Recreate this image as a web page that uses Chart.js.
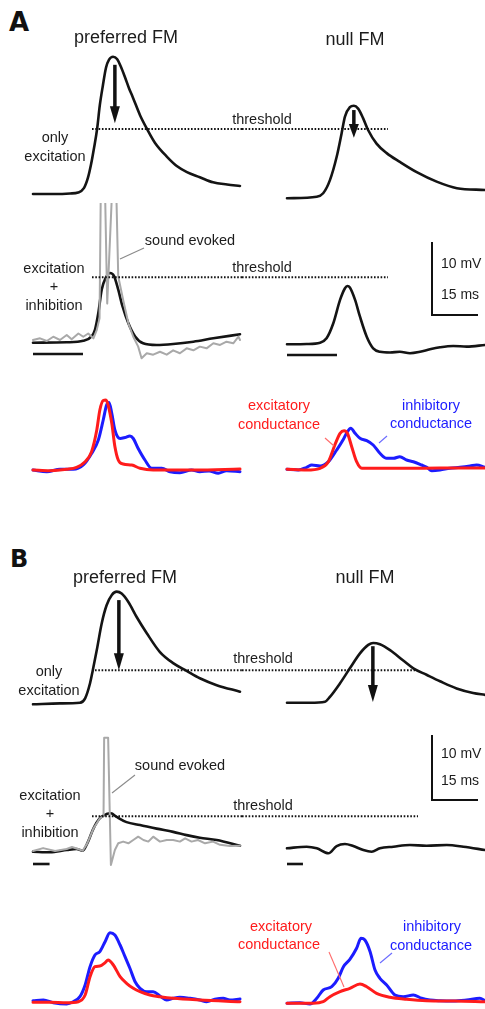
<!DOCTYPE html>
<html><head><meta charset="utf-8">
<script src="https://cdn.jsdelivr.net/npm/chart.js@4.4.1/dist/chart.umd.min.js"></script>
<style>
html,body{margin:0;padding:0;background:#fff}
body{width:485px;height:1009px;position:relative;overflow:hidden;font-family:Arial,"Liberation Sans",Helvetica,sans-serif;color:#1c1c1c}
canvas{position:absolute}
.t{position:absolute;white-space:nowrap;line-height:1}
svg{position:absolute;left:0;top:0}
</style></head><body>
<script>
// ===================== DATA =====================
// time in ms from trace onset, membrane potential in mV (re. rest), conductance in nS
// Panel A – only excitation
const A_exc_pref_t = [0,7.2,12.1,14.7,16.6,17.9,18.9,19.9,20.9,21.8,22.8,23.8,24.8,26.1,27.4,28.7,30.0,31.3,32.6,34.9,37.2,39.8,43.7,47.0,50.2,54.4,58.7,63.3,67.5];
const A_exc_pref_v = [0,0,0.07,0.2,0.8,2.2,4.0,6.3,8.9,12.2,14.9,17.3,18.4,18.8,18.5,17.4,16.0,14.5,13.2,10.8,8.9,7.0,5.1,3.8,3.0,2.3,1.6,1.3,1.1];
const A_exc_null_t = [0,9.7,11.8,14.0,16.2,17.8,18.9,20.5,21.8,23.2,24.8,26.4,29.2,32.5,36.8,42.3,48.8,55.4,64.6];
const A_exc_null_v = [-0.59,-0.37,0.1,1.9,5.1,8.3,10.6,11.9,12.1,11.7,10.4,8.8,6.9,5.6,4.4,3.0,1.7,0.8,0.55];
// Panel A – excitation + inhibition
const A_ei_pref_t = [0,11.0,16.4,19.1,20.2,21.3,22.4,23.8,25.1,26.4,27.8,29.2,31.1,33.3,35.9,40.3,45.7,52.3,58.8,67.5];
const A_ei_pref_v = [0.04,0.1,0.3,0.9,1.8,4.1,7.3,9.0,9.6,9.2,7.3,5.0,2.7,0.9,-0.04,-0.27,-0.14,0.18,0.64,1.19];
const A_sound_t = [0,2.3,4.5,6.6,8.8,11.0,12.6,14.8,16.4,18.0,19.7,20.8,21.7,22.2,22.4,23.1,23.3,24.2,25.7,25.9,27.0,27.2,27.8,29.4,31.1,32.7,34.3,35.4,37.1,39.2,41.4,43.6,45.7,47.9,50.1,52.3,54.4,56.6,58.8,61.0,63.1,65.3,67.0,67.5];
const A_sound_v = [0.41,0.64,0.27,0.86,0.41,1.1,0.5,1.3,0.86,1.3,0.64,1.8,3.4,25,40,40,25,5.4,20,40,40,20,9.1,5.9,2.7,0.86,-0.5,-2.1,-1.4,-1.6,-1.2,-1.6,-1.0,-1.4,-0.73,-1.0,-0.5,-0.73,-0.04,-0.27,0.18,-0.04,0.86,0.41];
const A_ei_null_t = [0,6.4,10.8,12.9,15.1,17.3,18.9,19.7,20.5,22.2,23.8,26.0,28.1,30.3,33.6,36.8,40.1,43.4,46.6,49.9,54.2,58.6,64.6];
const A_ei_null_v = [-0.18,-0.14,0.04,0.64,2.7,5.9,7.5,7.8,7.6,5.9,3.6,0.86,-0.73,-1.2,-1.3,-1.2,-1.4,-1.2,-0.86,-0.59,-0.41,-0.5,-0.27];
// Panel A – conductances
const A_ge_pref_t = [0,5.5,11.0,14.2,17.0,19.1,20.8,21.8,22.9,23.8,24.5,25.7,26.7,27.8,29.4,32.2,34.9,39.2,52.8,67.5];
const A_ge_pref   = [0,-0.14,0.14,0.54,1.66,3.66,8.0,12.0,13.9,14.0,13.0,9.3,4.7,2.0,1.2,1.0,0.34,0,0,0.2];
const A_gi_pref_t = [0,4.5,8.8,13.1,16.4,19.1,21.3,22.9,24.0,24.8,25.7,26.7,28.4,30.0,31.6,32.7,34.3,36.5,38.7,42.0,44.7,47.9,51.7,54.4,57.4,60.4,63.1,67.5];
const A_gi_pref   = [0,-0.34,0.14,0.14,1.0,3.3,6.0,10.0,13.0,13.5,11.3,8.0,6.3,6.5,6.8,6.3,4.3,2.0,0.34,0.34,-0.34,-0.54,0,-0.34,-0.2,-0.66,-0.14,-0.34];
const A_ge_null_t = [0,6.4,10.8,13.5,15.6,17.3,18.6,19.7,21.1,22.7,24.4,28.1,39.0,49.9,64.6];
const A_ge_null   = [0.14,0,0.34,1.66,5.0,7.34,7.86,7.34,4.66,1.66,0.34,0.34,0.34,0.4,0.4];
const A_gi_null_t = [0,3.7,6.4,8.1,10.8,13.5,16.2,18.4,19.5,20.8,22.2,23.8,26.0,28.1,30.3,32.5,34.7,36.8,39.0,41.2,43.9,45.6,47.2,49.9,53.1,56.4,59.7,61.8,64.6];
const A_gi_null   = [0.14,0,0.54,1.0,0.8,1.66,4.0,6.14,7.46,8.34,7.34,6.34,5.86,5.0,3.34,2.34,2.34,2.66,2.0,1.66,1.0,0.54,-0.14,0,0.34,0.54,0.8,1.0,0.54];
// Panel B – only excitation
const B_exc_pref_t = [0,8.8,15.3,17.0,18.6,19.5,20.8,22.4,24.0,25.7,27.3,28.9,31.1,33.8,37.1,41.4,45.7,50.1,54.4,59.9,67.5];
const B_exc_pref_v = [-0.05,0.1,0.2,0.88,3.2,5.2,8.3,12.4,15.2,16.8,17.3,17.0,15.7,13.4,10.9,8.0,6.3,5.1,3.96,2.9,1.9];
const B_exc_null_t = [0,7.5,12.4,14.0,17.3,20.5,23.8,26.5,28.1,30.3,33.6,37.9,41.2,45.5,49.9,55.3,60.7,64.6];
const B_exc_null_v = [0.2,0.2,0.35,1.1,3.2,5.5,7.8,9.1,9.4,9.2,8.3,6.7,5.5,4.5,3.5,2.4,1.7,1.4];
// Panel B – excitation + inhibition
const B_ei_pref_t = [0,5.5,11.0,14.2,16.2,17.7,19.7,21.8,24.0,25.4,27.3,30.5,34.9,40.3,45.7,50.1,54.4,59.9,67.5];
const B_ei_pref_v = [0.05,-0.05,0.3,0.46,0.2,1.33,3.6,5.2,5.85,5.96,5.4,4.6,4.16,3.6,3.1,2.6,2.2,1.85,0.97];
const B_sound_t = [0,3.3,7.2,11.0,12.7,14.7,16.2,17.7,19.7,21.8,23.0,23.2,24.5,25.4,26.7,27.8,29.4,31.1,32.7,34.3,36.0,37.6,39.2,41.4,43.6,45.7,47.9,49.6,51.7,53.8,56.1,58.7,61.0,64.2,67.5];
const B_sound_v = [0.15,0.6,0.15,0.46,0.77,0.46,0.2,1.33,3.6,5.2,5.5,17.6,17.6,-2.0,0.3,1.34,1.6,1.34,1.85,2.36,1.85,1.6,2.36,1.6,1.85,1.85,1.6,2.1,1.6,1.85,1.34,1.6,1.1,0.92,0.97];
const B_ei_null_t = [0,6.4,9.7,13.5,16.2,18.9,21.6,24.9,27.6,30.3,34.7,40.1,45.5,52.1,57.5,64.6];
const B_ei_null_v = [0.57,0.82,0.57,-0.2,0.92,1.23,0.92,0.3,0.05,0.57,0.82,1.08,0.97,1.08,0.82,0.3];
// Panel B – conductances
const B_ge_pref_t = [0,5.5,11.0,14.8,17.0,18.6,20.2,21.8,23.5,24.5,26.2,28.4,30.5,32.7,34.9,38.1,41.4,45.7,54.4,67.5];
const B_ge_pref   = [-0.06,-0.06,-0.14,0.06,1.4,5.06,7.06,7.2,7.86,8.4,7.4,5.06,3.74,2.74,2.06,1.4,1.06,0.74,0.4,0.06];
const B_gi_pref_t = [0,3.4,6.6,11.0,13.1,15.3,17.0,18.6,20.2,21.8,23.5,25.1,26.7,28.4,30.0,31.6,33.3,34.9,37.1,39.2,41.4,43.6,45.7,47.9,51.2,54.4,56.6,59.3,62.0,64.2,67.5];
const B_gi_pref   = [0.26,0.4,-0.14,-0.4,0.06,1.06,3.4,7.06,9.4,10.06,12.06,13.86,13.4,11.4,9.06,6.74,4.06,2.74,2.06,2.06,1.2,0.4,0.74,0.94,0.74,0.4,0.06,0.54,0.74,0.4,0.6];
const B_ge_null_t = [0,8.6,11.8,14.0,17.3,20.5,23.8,26.0,29.2,33.6,39.0,45.5,54.8,64.6];
const B_ge_null   = [-0.26,-0.26,0.06,1.06,2.06,2.74,3.6,3.06,1.74,0.94,0.54,0.26,0.2,0.06];
const B_gi_null_t = [0,4.2,7.5,9.7,11.8,14.6,16.7,18.4,20.5,22.7,24.1,25.4,27.1,28.7,30.3,32.5,35.2,37.9,41.2,43.9,46.6,49.9,54.2,58.6,62.9,64.6];
const B_gi_null   = [-0.26,-0.14,-0.4,0.74,2.4,3.06,4.74,7.06,8.54,10.74,12.74,12.4,10.06,6.4,4.74,3.4,1.4,1.06,1.4,0.74,0.4,0.26,0.2,0.4,0.74,0.26];
// thresholds (mV) per row, arrows [t, from mV, to mV], stimulus durations (ms), scale bar
const thresholds = [8.9, 9.0, 5.2, 5.5];           // A1, A2, B1, B2
const A_arrow_pref = [26.7, 17.7, 9.7];
const A_arrow_null = [21.8, 11.5, 7.7];
const B_arrow_pref = [28.0, 16.0, 5.2];
const B_arrow_null = [28.0, 8.9, 0.3];
const stimDur = [16.3, 16.3, 5.4, 5.2];           // A pref, A null, B pref, B null
const scaleBar_mV = 10, scaleBar_ms = 15;

// ===================== LAYOUT =====================
const MS_PER_PX = 15/46;
const colL = {x0:0, x1:242, origin:33};
const colR = {x0:242, x1:485, origin:287};
const rowA1 = {top:45,  bottom:203, base:194, k:0.137};
const rowA2 = {top:203, bottom:365, base:343, k:0.137};
const rowA3 = {top:380, bottom:485, base:470, k:0.2};
const rowB1 = {top:585, bottom:712, base:704, k:0.154};
const rowB2 = {top:712, bottom:875, base:852, k:0.154};
const rowB3 = {top:900, bottom:1009, base:1002, k:0.2};
const BLACK='#141414', GRAY='#a9a9a9', RED='rgb(255,28,28)', BLUE='rgb(28,28,255)';

const pts = (t,v)=>t.map((x,i)=>({x, y:v[i]}));
const xOf = (col,px)=>(px-col.origin)*MS_PER_PX;
const yOf = (row,py)=>(row.base-py)*row.k;
function trace(t,v,color,w,smooth=true){
  return {data:pts(t,v), borderColor:color, borderWidth:w, pointRadius:0, fill:false,
          tension: smooth?0.4:0, cubicInterpolationMode: smooth?'monotone':'default', borderJoinStyle:'round', borderCapStyle:'round'};
}
function seg(x1,y1,x2,y2,color,w,dash){
  return {data:[{x:x1,y:y1},{x:x2,y:y2}], borderColor:color, borderWidth:w, pointRadius:0, fill:false, tension:0,
          borderDash: dash||[], borderCapStyle:'butt'};
}
function thresholdLine(col,row,th,pxFrom,pxTo){
  return seg(xOf(col,pxFrom), th, xOf(col,pxTo), th, '#111', 2, [1.6,1.7]);
}
function makeChart(col,row,datasets,arrows){
  const c=document.createElement('canvas');
  const w=col.x1-col.x0, h=row.bottom-row.top;
  c.width=w; c.height=h; c.style.left=col.x0+'px'; c.style.top=row.top+'px';
  c.style.width=w+'px'; c.style.height=h+'px';
  document.body.appendChild(c);
  const arrowPlugin={id:'arrows', afterDatasetsDraw(chart){
    const ctx=chart.ctx, xs=chart.scales.x, ys=chart.scales.y;
    (arrows||[]).forEach(a=>{
      const x=xs.getPixelForValue(a[0]), y0=ys.getPixelForValue(a[1]), y1=ys.getPixelForValue(a[2]);
      const len=y1-y0, hl=Math.min(17, len*0.5), hw=5;
      ctx.save(); ctx.fillStyle='#111'; ctx.strokeStyle='#111'; ctx.lineWidth=3.5;
      ctx.beginPath(); ctx.moveTo(x,y0); ctx.lineTo(x,y1-hl+1); ctx.stroke();
      ctx.beginPath(); ctx.moveTo(x-hw,y1-hl); ctx.lineTo(x+hw,y1-hl); ctx.lineTo(x,y1); ctx.closePath(); ctx.fill();
      ctx.restore();
    });
  }};
  new Chart(c,{type:'line', data:{datasets},
    options:{responsive:false, animation:false, devicePixelRatio:1, events:[],
      layout:{padding:0},
      plugins:{legend:{display:false}, tooltip:{enabled:false}},
      scales:{x:{type:'linear', display:false, min:xOf(col,col.x0), max:xOf(col,col.x1)},
              y:{type:'linear', display:false, min:yOf(row,row.bottom), max:yOf(row,row.top)}}},
    plugins:[arrowPlugin]});
}
function stimBar(col,row,dur,offPx){
  const y=-offPx*row.k; return seg(0,y,dur,y,BLACK,2.6);
}
function scaleBarSets(col,row,pxX,pxBottom){
  const x=xOf(col,pxX), y=yOf(row,pxBottom);
  return [{data:[{x,y:y+scaleBar_mV},{x,y},{x:x+scaleBar_ms,y}], borderColor:'#111', borderWidth:2, pointRadius:0, fill:false, tension:0, borderJoinStyle:'miter'}];
}

// ---- Panel A ----
makeChart(colL,rowA1,[thresholdLine(colL,rowA1,thresholds[0],92,242), trace(A_exc_pref_t,A_exc_pref_v,BLACK,2.6)],[A_arrow_pref]);
makeChart(colR,rowA1,[thresholdLine(colR,rowA1,thresholds[0],242,388), trace(A_exc_null_t,A_exc_null_v,BLACK,2.6)],[A_arrow_null]);
makeChart(colL,rowA2,[thresholdLine(colL,rowA2,thresholds[1],92,242), trace(A_sound_t,A_sound_v,GRAY,2,false), trace(A_ei_pref_t,A_ei_pref_v,BLACK,2.6), stimBar(colL,rowA2,stimDur[0],11)]);
makeChart(colR,rowA2,[thresholdLine(colR,rowA2,thresholds[1],242,388), trace(A_ei_null_t,A_ei_null_v,BLACK,2.6), stimBar(colR,rowA2,stimDur[1],12), ...scaleBarSets(colR,rowA2,432,315)]);
makeChart(colL,rowA3,[trace(A_ge_pref_t,A_ge_pref,RED,3), trace(A_gi_pref_t,A_gi_pref,BLUE,3)]);
makeChart(colR,rowA3,[trace(A_ge_null_t,A_ge_null,RED,3), trace(A_gi_null_t,A_gi_null,BLUE,3)]);
// ---- Panel B ----
makeChart(colL,rowB1,[thresholdLine(colL,rowB1,thresholds[2],95,242), trace(B_exc_pref_t,B_exc_pref_v,BLACK,2.6)],[B_arrow_pref]);
makeChart(colR,rowB1,[thresholdLine(colR,rowB1,thresholds[2],242,415), trace(B_exc_null_t,B_exc_null_v,BLACK,2.6)],[B_arrow_null]);
makeChart(colL,rowB2,[thresholdLine(colL,rowB2,thresholds[3],92,242), trace(B_sound_t,B_sound_v,GRAY,2,false), trace(B_ei_pref_t,B_ei_pref_v,BLACK,2.6), stimBar(colL,rowB2,stimDur[2],12)]);
makeChart(colR,rowB2,[thresholdLine(colR,rowB2,thresholds[3],242,418), trace(B_ei_null_t,B_ei_null_v,BLACK,2.6), stimBar(colR,rowB2,stimDur[3],12), ...scaleBarSets(colR,rowB2,432,800)]);
makeChart(colL,rowB3,[trace(B_ge_pref_t,B_ge_pref,RED,3), trace(B_gi_pref_t,B_gi_pref,BLUE,3)]);
makeChart(colR,rowB3,[trace(B_ge_null_t,B_ge_null,RED,3), trace(B_gi_null_t,B_gi_null,BLUE,3)]);

// ===================== TEXT & LEADER LINES =====================
function txt(s,x,baseline,size,opt={}){
  const d=document.createElement('div'); d.className='t'; d.textContent=s;
  d.style.fontSize=size+'px'; d.style.top=(baseline-0.8465*size)+'px';
  if(opt.bold){ d.style.fontWeight='bold'; d.style.fontFamily='"DejaVu Sans",Arial,sans-serif'; d.style.color='#111'; }
  if(opt.color) d.style.color=opt.color;
  if(opt.align==='left'){ d.style.left=x+'px'; }
  else { d.style.left=x+'px'; d.style.transform='translateX(-50%)'; }
  document.body.appendChild(d);
}
txt('A',9,31,26,{bold:true,align:'left'});
txt('preferred FM',126,43,18);
txt('null FM',355,45,18);
txt('threshold',262,124,14.5);
txt('only',55,142,14.5); txt('excitation',55,161,14.5);
txt('sound evoked',190,245,14.5);
txt('threshold',262,272,14.5);
txt('excitation',54,273,14.5); txt('+',54,291,14.5); txt('inhibition',54,310,14.5);
txt('10 mV',441,268,14,{align:'left'}); txt('15 ms',441,299,14,{align:'left'});
txt('excitatory',279,410,14.5,{color:RED}); txt('conductance',279,429,14.5,{color:RED});
txt('inhibitory',431,410,14.5,{color:BLUE}); txt('conductance',431,428,14.5,{color:BLUE});

txt('B',10,567,24,{bold:true,align:'left'});
txt('preferred FM',125,583,18);
txt('null FM',365,583,18);
txt('threshold',263,663,14.5);
txt('only',49,676,14.5); txt('excitation',49,695,14.5);
txt('sound evoked',180,770,14.5);
txt('threshold',263,810,14.5);
txt('excitation',50,800,14.5); txt('+',50,818,14.5); txt('inhibition',50,837,14.5);
txt('10 mV',441,758,14,{align:'left'}); txt('15 ms',441,785,14,{align:'left'});
txt('excitatory',281,931,14.5,{color:RED}); txt('conductance',279,949,14.5,{color:RED});
txt('inhibitory',432,931,14.5,{color:BLUE}); txt('conductance',431,950,14.5,{color:BLUE});

const svgNS='http://www.w3.org/2000/svg';
const svg=document.createElementNS(svgNS,'svg'); svg.setAttribute('width',485); svg.setAttribute('height',1009);
[[120,259,144,248,'#8a8a8a'],[112,793,135,775,'#8a8a8a'],
 [325,438,334,446,'#ff6b6b'],[379,443,387,436,'#6b6bff'],
 [329,952,344,987,'#ff6b6b'],[380,963,392,953,'#6b6bff']].forEach(l=>{
  const e=document.createElementNS(svgNS,'line');
  e.setAttribute('x1',l[0]);e.setAttribute('y1',l[1]);e.setAttribute('x2',l[2]);e.setAttribute('y2',l[3]);
  e.setAttribute('stroke',l[4]);e.setAttribute('stroke-width',1.1);
  svg.appendChild(e);
});
document.body.appendChild(svg);
</script>
</body></html>
